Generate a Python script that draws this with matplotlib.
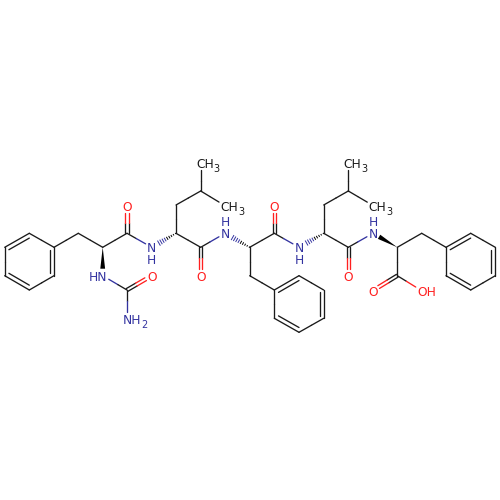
import numpy as np
from matplotlib import pyplot as plt
from matplotlib.patches import Polygon

# atom positions, in pixels
atom_x = [29.3, 54, 54, 29.3, 4.7, 4.7,
          78.3, 102.7, 127, 127, 151.7, 102.7, 127, 151.7, 127,
          176, 176, 200.7, 200.7, 225, 200.7, 200.7, 225,
          249.7, 274.3, 274.3, 299, 249.7,
          274.3, 299, 323.7, 323.7, 299, 274.3,
          323.7, 323.7, 348.3, 348.3, 373.3, 348.3, 348.3, 373,
          397.3, 397.3, 372.7, 421.7, 421.7,
          446, 470.7, 495.3, 495.3, 470.7, 446]
atom_y = [233.3, 247.3, 275.7, 290, 275.7, 247.3,
          233.3, 247.3, 233.3, 206, 247.3, 275.7, 290, 275.7, 319,
          233.3, 205, 191, 163, 205.7, 247.3, 275.7, 233.3,
          247.3, 233.3, 206, 247.3, 275.7,
          290, 275.7, 290, 318.3, 332.3, 318.3,
          233.3, 205, 191, 163, 205.7, 247.3, 275.7, 233.3,
          247.3, 275.7, 290.7, 290.7, 233.3,
          247.3, 233.3, 247.3, 275.7, 290, 275.7]

# atom index -> (text, subscript, element, which letter sits on the atom)
atom_labels = {9: ('O', '', 'O', 'c'), 10: ('N', '', 'N', 'c'), 11: ('HN', '', 'N', 'r'),
               13: ('O', '', 'O', 'c'), 14: ('NH', '2', 'N', 'l'),
               18: ('CH', '3', 'C', 'l'), 19: ('CH', '3', 'C', 'l'),
               21: ('O', '', 'O', 'c'), 22: ('N', '', 'N', 'c'), 25: ('O', '', 'O', 'c'),
               26: ('N', '', 'N', 'c'), 37: ('CH', '3', 'C', 'l'), 38: ('CH', '3', 'C', 'l'),
               40: ('O', '', 'O', 'c'), 41: ('N', '', 'N', 'c'), 44: ('O', '', 'O', 'c'),
               45: ('OH', '', 'O', 'l')}
h_below = [10, 26]
h_above = [22, 41]

single_bonds = [(1, 6), (2, 3), (4, 5), (0, 1),
                (6, 7), (7, 8), (8, 10), (11, 12), (12, 14),
                (15, 16), (16, 17), (17, 18), (17, 19), (15, 20), (20, 22),
                (23, 24), (24, 26), (23, 27), (27, 28), (29, 30), (31, 32), (33, 28),
                (34, 35), (35, 36), (36, 37), (36, 38), (34, 39), (39, 41),
                (42, 43), (43, 45), (42, 46), (46, 47), (48, 49), (50, 51), (52, 47)]
double_bonds = [(8, 9), (12, 13), (20, 21), (24, 25), (39, 40), (43, 44)]
# ring double bonds, with the first atom of their ring
ring_double = [((0, 5), 0), ((1, 2), 0), ((3, 4), 0),
               ((28, 29), 28), ((30, 31), 28), ((32, 33), 28),
               ((47, 48), 47), ((49, 50), 47), ((51, 52), 47)]
solid_wedges = [(7, 11), (42, 41)]
hash_wedges = [(15, 10), (23, 22), (34, 26)]

element_colors = {'C': '#1a1a1a', 'N': '#3333a0', 'O': '#ff2020'}
LW = 0.95
GAP = 7.0
FS = 8.8

fig = plt.figure(figsize=(5, 5), dpi=100)
ax = fig.add_axes([0, 0, 1, 1])
ax.set_xlim(0, 500)
ax.set_ylim(500, 0)
ax.axis('off')

pts = np.column_stack([atom_x, atom_y])


def colour(i):
    if i in atom_labels:
        return element_colors[atom_labels[i][2]]
    return element_colors['C']


def trimmed(i, j):
    a, b = pts[i].copy(), pts[j].copy()
    u = (b - a) / np.linalg.norm(b - a)
    if i in atom_labels:
        a = a + u * GAP
    if j in atom_labels:
        b = b - u * GAP
    return a, b


def two_tone(a, b, ci, cj):
    mid = (a + b) / 2
    ax.plot([a[0], mid[0]], [a[1], mid[1]], color=ci, lw=LW, solid_capstyle='round')
    ax.plot([mid[0], b[0]], [mid[1], b[1]], color=cj, lw=LW, solid_capstyle='round')


for i, j in single_bonds:
    a, b = trimmed(i, j)
    two_tone(a, b, colour(i), colour(j))

for i, j in double_bonds:
    a, b = trimmed(i, j)
    u = (b - a) / np.linalg.norm(b - a)
    n = np.array([-u[1], u[0]]) * 1.6
    two_tone(a + n, b + n, colour(i), colour(j))
    two_tone(a - n, b - n, colour(i), colour(j))

for (i, j), first in ring_double:
    centre = pts[first:first + 6].mean(axis=0)
    a, b = pts[i], pts[j]
    ax.plot([a[0], b[0]], [a[1], b[1]], color=colour(i), lw=LW, solid_capstyle='round')
    a2 = a + (centre - a) * 0.17
    b2 = b + (centre - b) * 0.17
    ax.plot([a2[0], b2[0]], [a2[1], b2[1]], color=colour(i), lw=LW, solid_capstyle='round')

for i, j in solid_wedges:
    a, b = trimmed(i, j)
    u = (b - a) / np.linalg.norm(b - a)
    n = np.array([-u[1], u[0]]) * 2.4
    ax.add_patch(Polygon([a, b + n, b - n], closed=True, fc='black', ec='none'))

for i, j in hash_wedges:
    a, b = trimmed(i, j)
    length = np.linalg.norm(b - a)
    u = (b - a) / length
    n = np.array([-u[1], u[0]])
    for d in np.arange(0.5, length, 2.4):
        p = a + u * d
        half = 2.6 * d / length
        ax.plot([p[0] - n[0] * half, p[0] + n[0] * half],
                [p[1] - n[1] * half, p[1] + n[1] * half],
                color=colour(j) if d > length / 2 else 'black', lw=0.7)

renderer = fig.canvas.get_renderer()
for idx, (txt, sub, el, mode) in atom_labels.items():
    x, y = pts[idx]
    c = element_colors[el]
    if mode == 'c':
        ax.text(x, y, txt, color=c, fontsize=FS, ha='center', va='center_baseline')
    elif mode == 'r':
        ax.text(x + 4.5, y, txt, color=c, fontsize=FS, ha='right', va='center_baseline')
    else:
        t = ax.text(x - 4.5, y, txt, color=c, fontsize=FS, ha='left', va='center_baseline')
        if sub:
            # subscript goes right after the main text, a bit lower
            right = t.get_window_extent(renderer).x1
            ax.text(right - 0.2, y + 5, sub, color=c, fontsize=FS * 0.8,
                    ha='left', va='center_baseline')

for idx in h_below:
    ax.text(pts[idx][0], pts[idx][1] + 12, 'H', color=element_colors['N'], fontsize=FS,
            ha='center', va='center_baseline')
for idx in h_above:
    ax.text(pts[idx][0], pts[idx][1] - 12.5, 'H', color=element_colors['N'], fontsize=FS,
            ha='center', va='center_baseline')

fig.savefig('out.png', dpi=100, facecolor='white')
